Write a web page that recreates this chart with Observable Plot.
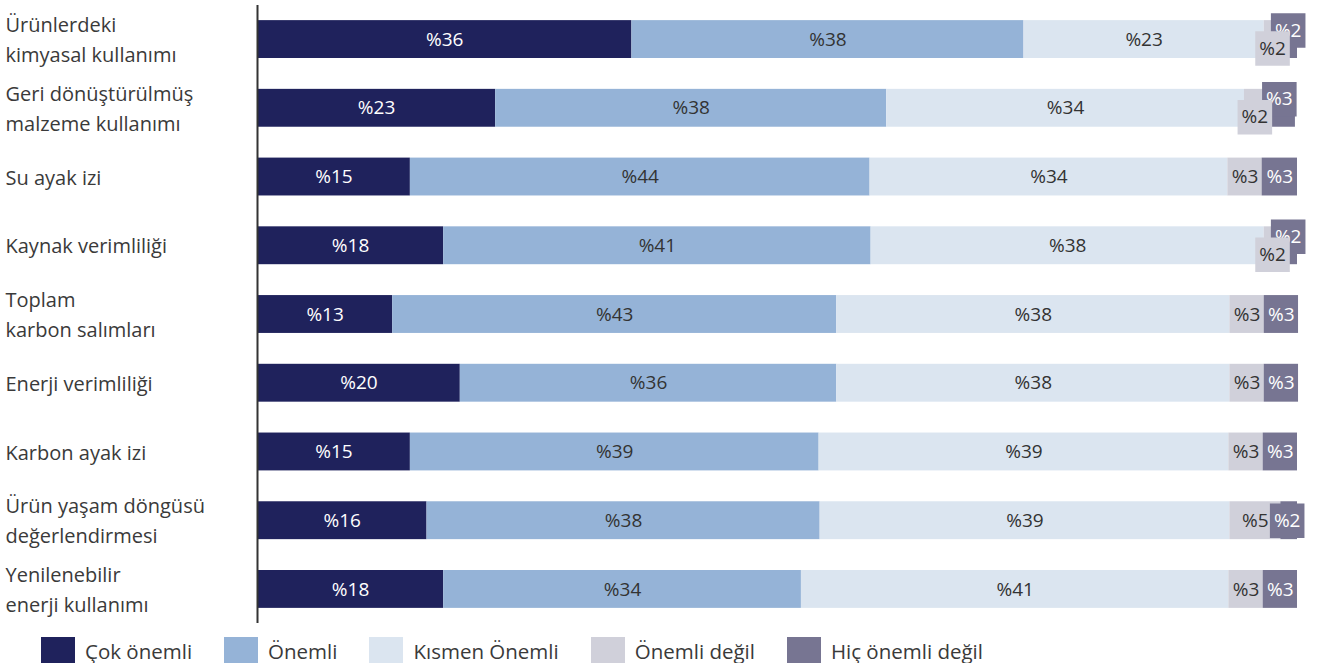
<!DOCTYPE html>
<html>
<head>
<meta charset="utf-8">
<script src="https://cdn.jsdelivr.net/npm/d3@7"></script>
<script src="https://cdn.jsdelivr.net/npm/@observablehq/plot@0.6"></script>
<style>
  body { margin: 0; background: #fff; font-family: "Open Sans", sans-serif; }
  #chart svg { display: block; }
  .lg-swatches { margin-left: 41px !important; margin-top: 4px !important; font-family: "Open Sans", sans-serif !important; font-size: 20.5px !important; color: #3a3a3a !important; line-height: 1.2 !important; }
  .lg-swatch { margin-right: 32px !important; }
  .lg-swatch > svg { margin-right: 10px !important; position: relative; top: 3px; }
</style>
</head>
<body>
<div id="chart"></div>
<script>
const categories = [
  "Ürünlerdeki\nkimyasal kullanımı",
  "Geri dönüştürülmüş\nmalzeme kullanımı",
  "Su ayak izi",
  "Kaynak verimliliği",
  "Toplam\nkarbon salımları",
  "Enerji verimliliği",
  "Karbon ayak izi",
  "Ürün yaşam döngüsü\ndeğerlendirmesi",
  "Yenilenebilir\nenerji kullanımı"
];
const series = ["Çok önemli", "Önemli", "Kısmen Önemli", "Önemli değil", "Hiç önemli değil"];
const colors = ["#1f225c", "#95b3d7", "#dbe5f0", "#d0d0da", "#777592"];

const cokOnemli   = [36.0, 22.9, 14.7, 17.9, 13.0, 19.5, 14.7, 16.3, 17.9];
const onemli      = [37.7, 37.6, 44.2, 41.1, 42.7, 36.2, 39.3, 37.8, 34.4];
const kismen      = [23.1, 34.4, 34.4, 37.8, 37.8, 37.8, 39.4, 39.4, 41.1];
const onemliDegil = [1.6, 2.0, 3.3, 1.6, 3.3, 3.3, 3.3, 4.9, 3.3];
const hicOnemli   = [1.6, 2.9, 3.4, 1.6, 3.3, 3.3, 3.3, 1.6, 3.3];
const seriesValues = [cokOnemli, onemli, kismen, onemliDegil, hicOnemli];

const rows = [];
categories.forEach((c, i) => {
  let acc = 0;
  const vals = seriesValues.map(v => v[i]);
  const bothSmall = vals[3] < 3 && vals[4] < 3;
  vals.forEach((v, j) => {
    const boxed = j >= 3 && v < 3;
    rows.push({
      category: c, series: series[j], value: v,
      x1: acc, x2: acc + v, mid: acc + v / 2,
      label: "%" + Math.round(v),
      boxed,
      place: !boxed ? "in" : bothSmall ? (j === 3 ? "low" : "high") : "mid",
      dark: j === 0 || j === 4
    });
    acc += v;
  });
});

const inner = rows.filter(d => !d.boxed);
const high = rows.filter(d => d.place === "high");
const mid = rows.filter(d => d.place === "mid");
const low = rows.filter(d => d.place === "low");
const R = 19.5;

const chart = Plot.plot({
  width: 1324,
  height: 630,
  marginLeft: 257,
  marginRight: 27,
  marginTop: 5,
  marginBottom: 7,
  style: { fontFamily: "Open Sans, sans-serif", fontSize: "19px", background: "#fff" },
  x: { domain: [0, 100], axis: null },
  y: { domain: categories, paddingInner: 0.449, paddingOuter: 0.22, round: false, axis: null },
  color: { domain: series, range: colors },
  marks: [
    Plot.barX(rows, { x1: "x1", x2: "x2", y: "category", fill: "series" }),
    Plot.text(inner.filter(d => d.dark), { x: "mid", y: "category", text: "label", fill: "white", fontSize: 19 }),
    Plot.text(inner.filter(d => !d.dark), { x: "mid", y: "category", text: "label", fill: "#333333", fontSize: 19 }),
    Plot.dot(high, { x: "mid", y: "category", symbol: "square", r: R, fill: colors[4], dy: -9, dx: -1 }),
    Plot.text(high, { x: "mid", y: "category", text: "label", fill: "white", fontSize: 19, dy: -9, dx: -1 }),
    Plot.dot(mid, { x: "mid", y: "category", symbol: "square", r: R, fill: colors[4], dx: -2 }),
    Plot.text(mid, { x: "mid", y: "category", text: "label", fill: "white", fontSize: 19, dx: -2 }),
    Plot.dot(low, { x: "mid", y: "category", symbol: "square", r: R, fill: colors[3], dy: 9 }),
    Plot.text(low, { x: "mid", y: "category", text: "label", fill: "#333333", fontSize: 19, dy: 9 }),
    Plot.ruleX([0], { stroke: "#333333", strokeWidth: 2 }),
    Plot.text(categories, { y: d => d, text: d => d, frameAnchor: "left", textAnchor: "start", dx: -252, dy: -2, fontSize: 20, lineHeight: 1.5, fill: "#3a3a3a" })
  ]
});

const legend = Plot.legend({
  color: { domain: series, range: colors },
  swatchSize: 34,
  className: "lg"
});

const el = document.getElementById("chart");
el.appendChild(chart);
el.appendChild(legend);
</script>
</body>
</html>
